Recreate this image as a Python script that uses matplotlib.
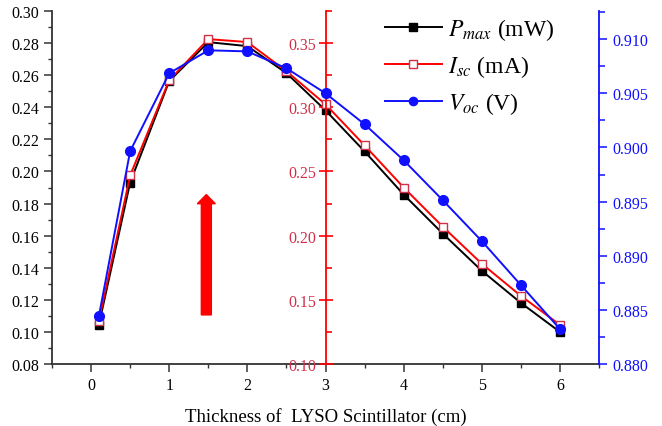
import numpy as np
from matplotlib import rcParams

rcParams['font.family'] = 'serif'
rcParams['font.serif'] = ['Liberation Serif', 'DejaVu Serif']
rcParams['mathtext.fontset'] = 'stix'
from matplotlib import pyplot as plt
from matplotlib.ticker import MultipleLocator, FormatStrFormatter

thickness = [0.1, 0.5, 1.0, 1.5, 2.0, 2.5, 3.0, 3.5, 4.0, 4.5, 5.0, 5.5, 6.0]
p_max = [0.1044, 0.1931, 0.2563, 0.2806, 0.2781, 0.2613, 0.2381, 0.2125,
         0.1856, 0.1613, 0.1381, 0.1181, 0.1000]
i_sc = [0.1336, 0.2469, 0.3211, 0.3531, 0.3508, 0.3281, 0.3023, 0.2703,
        0.2375, 0.2070, 0.1781, 0.1531, 0.1305]
v_oc = [0.88443, 0.89965, 0.90685, 0.90897, 0.90887, 0.90731, 0.90500,
        0.90214, 0.89882, 0.89513, 0.89135, 0.88729, 0.88323]

RED = '#ff0000'
RED_TXT = '#d0304a'
BLUE = '#1010ff'


def main():
    fig = plt.figure(figsize=(6.62, 4.27), dpi=100)
    ax = fig.add_axes([52 / 662, 62 / 427, 547 / 662, 353 / 427])
    ax_r = ax.twinx()
    ax_b = ax.twinx()

    # black / left axis
    l1, = ax.plot(thickness, p_max, '-s', color='black', lw=1.4, ms=6,
                  mfc='black', mec='black', label=r'$P_{max}$ (mW)')
    ax.set_xlim(-0.5, 6.5)
    ax.set_ylim(0.08, 0.30)
    ax.xaxis.set_major_locator(MultipleLocator(1))
    ax.xaxis.set_minor_locator(MultipleLocator(0.5))
    ax.yaxis.set_major_locator(MultipleLocator(0.02))
    ax.yaxis.set_minor_locator(MultipleLocator(0.01))
    ax.yaxis.set_major_formatter(FormatStrFormatter('%.2f'))
    ax.spines['top'].set_visible(False)
    ax.spines['right'].set_visible(False)
    for s in ['left', 'bottom']:
        ax.spines[s].set_color('#333333')
        ax.spines[s].set_linewidth(1.3)
    ax.tick_params(which='major', length=6, width=1.1, labelsize=11.5, color='#333333')
    ax.tick_params(which='minor', length=3, width=1.0, color='#333333')
    ax.set_xlabel('Thickness of  LYSO Scintillator (cm)', fontsize=13.5, labelpad=10)

    # red / middle axis at x = 3
    l2, = ax_r.plot(thickness, i_sc, '-s', color=RED, lw=1.4, ms=6,
                    mfc='white', mec=RED_TXT, label=r'$I_{sc}$ (mA)')
    ax_r.set_ylim(0.10, 0.375)
    ax_r.yaxis.set_major_locator(MultipleLocator(0.05))
    ax_r.yaxis.set_minor_locator(MultipleLocator(0.025))
    ax_r.yaxis.set_major_formatter(FormatStrFormatter('%.2f'))
    ax_r.spines['left'].set_position(('data', 3))
    ax_r.spines['left'].set_color(RED)
    ax_r.spines['left'].set_linewidth(1.3)
    for s in ['right', 'top', 'bottom']:
        ax_r.spines[s].set_visible(False)
    ax_r.yaxis.set_ticks_position('left')
    ax_r.yaxis.set_label_position('left')
    ax_r.tick_params(axis='y', which='major', direction='inout', length=10,
                     width=1.2, colors=RED, labelcolor=RED_TXT, labelsize=11.5, pad=2)
    ax_r.tick_params(axis='y', which='minor', direction='in', length=4,
                     width=1.2, colors=RED)

    # blue / right axis
    l3, = ax_b.plot(thickness, v_oc, '-o', color=BLUE, lw=1.4, ms=7,
                    mfc=BLUE, mec=BLUE, label=r'$V_{oc}$ (V)')
    ax_b.set_ylim(0.880, 0.9126)
    ax_b.yaxis.set_major_locator(MultipleLocator(0.005))
    ax_b.yaxis.set_minor_locator(MultipleLocator(0.0025))
    ax_b.yaxis.set_major_formatter(FormatStrFormatter('%.3f'))
    for s in ['left', 'top', 'bottom']:
        ax_b.spines[s].set_visible(False)
    ax_b.spines['right'].set_color(BLUE)
    ax_b.spines['right'].set_linewidth(1.3)
    ax_b.tick_params(axis='y', which='major', length=6, width=1.1,
                     colors=BLUE, labelsize=11.5)
    ax_b.tick_params(axis='y', which='minor', length=4, width=1.1, colors=BLUE)

    # red arrow
    ax.arrow(1.475, 0.1106, 0, 0.0693, width=0.128, head_width=0.23,
             head_length=0.0057, color=RED, length_includes_head=False,
             zorder=5)

    fig.legend(handles=[l1, l2, l3], loc='upper left',
               bbox_to_anchor=(385 / 662, 1 - 17 / 427),
               bbox_transform=fig.transFigure, frameon=False, fontsize=17,
               borderpad=0, borderaxespad=0, handlelength=2.4,
               handletextpad=0.25, labelspacing=0.48, markerscale=0.85)

    plt.savefig('out.png', dpi=100)


if __name__ == "__main__":
    main()
